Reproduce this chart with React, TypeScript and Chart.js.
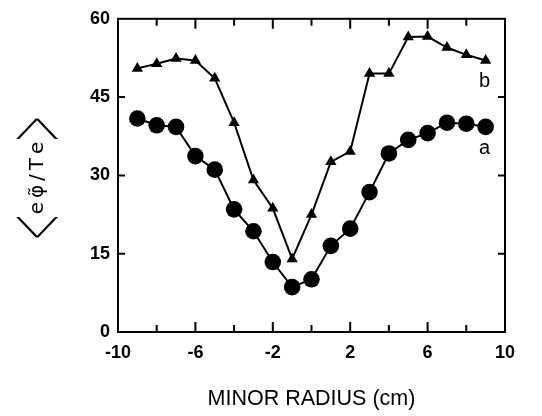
import React, { useEffect, useRef } from "react";
import { Chart, registerables } from "chart.js";

Chart.register(...registerables);

const radius = [-9, -8, -7, -6, -5, -4, -3, -2, -1, 0, 1, 2, 3, 4, 5, 6, 7, 8, 9];
const seriesA = [40.9, 39.6, 39.3, 33.7, 31.1, 23.5, 19.3, 13.4, 8.6, 10.1, 16.5, 19.8, 26.8, 34.2, 36.8, 38.1, 40.1, 39.9, 39.3];
const seriesB = [50.5, 51.4, 52.4, 52.0, 48.6, 40.1, 29.1, 23.7, 14.0, 22.5, 32.6, 34.6, 49.5, 49.5, 56.5, 56.6, 54.5, 53.1, 52.0];
const curveLabels = [
  { text: "b", x: 8.95, y: 47.9 },
  { text: "a", x: 8.95, y: 35.1 },
];
const xTickMarks = [-10, -8, -6, -4, -2, 0, 2, 4, 6, 8, 10];
const xMajorTicks = [-10, -6, -2, 2, 6, 10];
const yTickMarks = [15, 30, 45];
const yTitleParts = ["<", "e\u2009φ̃\u2009/\u2009T\u2009e", ">"];
const xTitle = "MINOR RADIUS (cm)";

const FONT = "'Liberation Sans', Arial, sans-serif";

function drawBracket(ctx: any, ch: string, pos: number, w: number, h: number) {
  ctx.save();
  ctx.font = `100 48px Roboto, 'DejaVu Sans', sans-serif`;
  ctx.textAlign = "left";
  ctx.textBaseline = "alphabetic";
  const m = ctx.measureText(ch);
  const gw = m.actualBoundingBoxLeft + m.actualBoundingBoxRight;
  const gh = m.actualBoundingBoxAscent + m.actualBoundingBoxDescent;
  const sx = w / gw;
  const sy = h / gh;
  ctx.translate(pos, 0);
  ctx.scale(sx, sy);
  const cy = (m.actualBoundingBoxAscent - m.actualBoundingBoxDescent) / 2;
  ctx.fillText(ch, m.actualBoundingBoxLeft, cy);
  ctx.restore();
}

const framePlugin = {
  id: "frame",
  afterDatasetsDraw(chart: any) {
    const { ctx, chartArea } = chart;
    const xs = chart.scales.x;
    const ys = chart.scales.y;
    ctx.save();
    ctx.strokeStyle = "#000";
    ctx.lineWidth = 2;
    ctx.strokeRect(chartArea.left, chartArea.top, chartArea.right - chartArea.left, chartArea.bottom - chartArea.top);
    ctx.beginPath();
    xTickMarks.forEach((v) => {
      const px = xs.getPixelForValue(v);
      const len = xMajorTicks.includes(v) ? 10 : 7;
      ctx.moveTo(px, chartArea.bottom);
      ctx.lineTo(px, chartArea.bottom - len);
      ctx.moveTo(px, chartArea.top);
      ctx.lineTo(px, chartArea.top + len);
    });
    yTickMarks.forEach((v) => {
      const py = ys.getPixelForValue(v);
      ctx.moveTo(chartArea.left, py);
      ctx.lineTo(chartArea.left + 7, py);
      ctx.moveTo(chartArea.right, py);
      ctx.lineTo(chartArea.right - 7, py);
    });
    ctx.stroke();
    ctx.fillStyle = "#000";
    ctx.font = `20px ${FONT}`;
    ctx.textAlign = "center";
    ctx.textBaseline = "middle";
    curveLabels.forEach((l) => {
      ctx.fillText(l.text, xs.getPixelForValue(l.x), ys.getPixelForValue(l.y));
    });

    // rotated y-axis title with large thin angle brackets
    const textFont = `20px 'DejaVu Sans', sans-serif`;
    ctx.translate(38, 178);
    ctx.rotate(-Math.PI / 2);
    ctx.font = textFont;
    const wt = ctx.measureText(yTitleParts[1]).width;
    const bw = 22;
    const bh = 46;
    const gap = 2;
    const total = bw + gap + wt + gap + bw;
    let x0 = -total / 2;
    drawBracket(ctx, yTitleParts[0], x0, bw, bh);
    x0 += bw + gap;
    ctx.font = textFont;
    ctx.textAlign = "left";
    ctx.textBaseline = "middle";
    ctx.fillText(yTitleParts[1], x0, 0);
    x0 += wt + gap;
    drawBracket(ctx, yTitleParts[2], x0, bw, bh);
    ctx.restore();
  },
};

export default function App() {
  const ref = useRef<HTMLCanvasElement>(null);
  useEffect(() => {
    if (!ref.current) return;
    const chart = new Chart(ref.current, {
      type: "line",
      data: {
        datasets: [
          {
            label: "a",
            data: radius.map((x, i) => ({ x, y: seriesA[i] })),
            borderColor: "#000",
            backgroundColor: "#000",
            borderWidth: 2,
            pointStyle: "circle",
            pointRadius: 8.3,
            pointBorderWidth: 0,
            tension: 0,
          },
          {
            label: "b",
            data: radius.map((x, i) => ({ x, y: seriesB[i] })),
            borderColor: "#000",
            backgroundColor: "#000",
            borderWidth: 2,
            pointStyle: "triangle",
            pointRadius: 6.5,
            pointBorderWidth: 0,
            tension: 0,
          },
        ],
      },
      options: {
        responsive: false,
        animation: false,
        layout: { padding: { left: 0, top: 10, right: 37, bottom: 0 } },
        plugins: { legend: { display: false }, tooltip: { enabled: false } },
        scales: {
          x: {
            type: "linear",
            min: -10,
            max: 10,
            grid: { display: false, drawTicks: false },
            border: { display: false },
            ticks: {
              stepSize: 4,
              padding: 10,
              color: "#000",
              font: { family: FONT, size: 18, weight: "bold" },
            },
            title: {
              display: true,
              text: xTitle,
              color: "#000",
              font: { family: FONT, size: 21.5 },
              padding: { top: 0, bottom: 4 },
            },
            afterFit: (s: any) => {
              s.height = 84;
            },
          },
          y: {
            min: 0,
            max: 60,
            grid: { display: false, drawTicks: false },
            border: { display: false },
            ticks: {
              stepSize: 15,
              padding: 8,
              color: "#000",
              font: { family: FONT, size: 18, weight: "bold" },
            },
            title: { display: false },
            afterFit: (s: any) => {
              s.width = 118;
            },
          },
        },
      },
      plugins: [framePlugin],
    });
    return () => chart.destroy();
  }, []);
  return (
    <div style={{ position: "absolute", left: 0, top: 0, width: 542, height: 416, background: "#fff" }}>
      <canvas ref={ref} width={542} height={416} style={{ display: "block" }} />
    </div>
  );
}
